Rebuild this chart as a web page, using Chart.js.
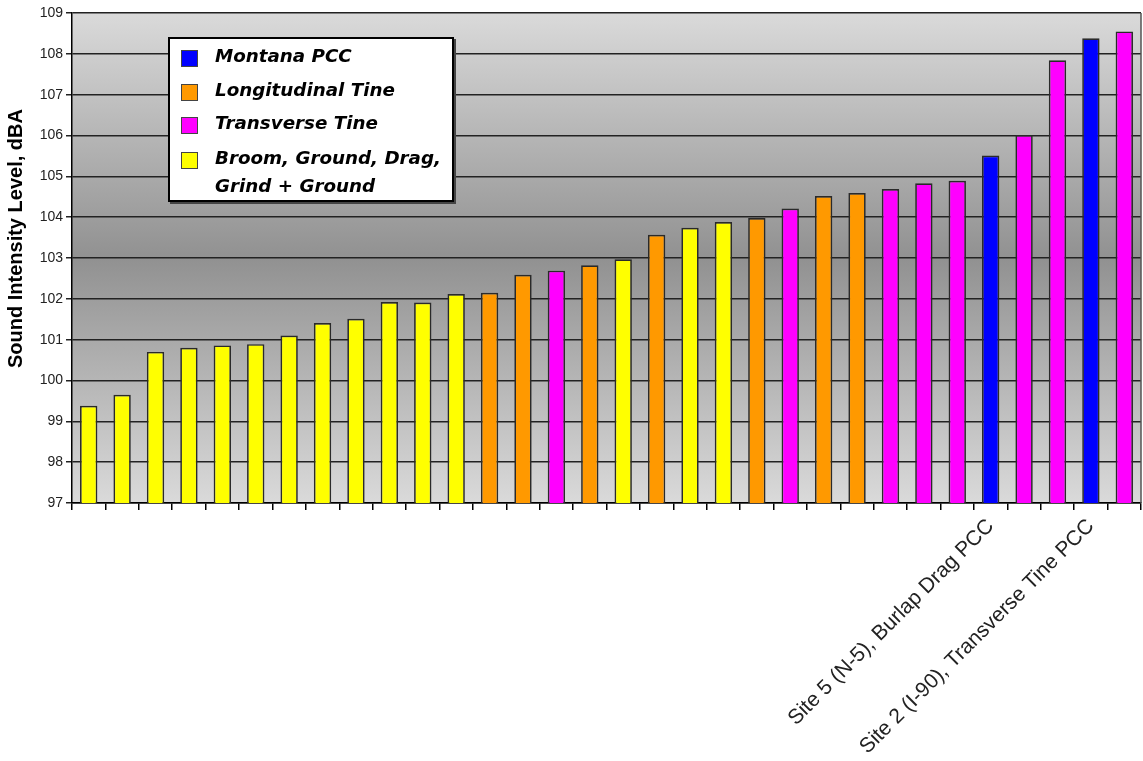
<!DOCTYPE html>
<html>
<head>
<meta charset="utf-8">
<script src="https://cdn.jsdelivr.net/npm/chart.js@4.4.1/dist/chart.umd.min.js"></script>
<style>
  html, body { margin: 0; padding: 0; background: #fff; }
  #wrap { position: relative; width: 1143px; height: 761px; }
  #legend {
    position: absolute; left: 168px; top: 37px; width: 282px; height: 161px;
    background: #fff; border: 2.5px solid #000; box-shadow: 2px 2px 0 #444;
    font-family: "DejaVu Sans", sans-serif; font-weight: bold; font-style: italic;
    font-size: 18.3px; color: #000;
  }
  .item { position: absolute; left: 0; }
  .sw { position: absolute; left: 11px; width: 15px; height: 15px; border: 1px solid #444; }
  .lbl { position: absolute; left: 45px; width: 237px; line-height: 28px; white-space: normal; }
</style>
</head>
<body>
<div id="wrap">
  <canvas id="c" width="1143" height="761"></canvas>
  <div id="legend"></div>
</div>
<script>
// ---- data ----
const categories = ['', '', '', '', '', '', '', '', '', '', '', '', '', '', '', '', '', '', '', '', '', '', '', '', '', '', '',
  'Site 5 (N-5), Burlap Drag PCC', '', '', 'Site 2 (I-90), Transverse Tine PCC', ''];
const values = [99.38, 99.65, 100.70, 100.80, 100.86, 100.89, 101.10, 101.41, 101.51, 101.92, 101.91, 102.12,
  102.15, 102.59, 102.69, 102.82, 102.97, 103.57, 103.74, 103.88, 103.98, 104.21, 104.52, 104.59,
  104.69, 104.83, 104.89, 105.51, 106.01, 107.84, 108.38, 108.55];
// index into seriesNames for each bar
const surfaceType = [3, 3, 3, 3, 3, 3, 3, 3, 3, 3, 3, 3, 1, 1, 2, 1, 3, 1, 3, 3, 1, 2, 1, 1, 2, 2, 2, 0, 2, 2, 0, 2];
const seriesNames = ['Montana PCC', 'Longitudinal Tine', 'Transverse Tine', 'Broom, Ground, Drag, Grind + Ground'];
const seriesColors = ['#0000ff', '#ff9900', '#ff00ff', '#ffff00'];
const yTitle = 'Sound Intensity Level, dBA';
const yMin = 97, yMax = 109, yStep = 1;

// ---- datasets ----
const datasets = seriesNames.map((name, g) => ({
  label: name,
  data: values.map((v, i) => surfaceType[i] === g ? v : null),
  backgroundColor: seriesColors[g],
  borderColor: '#2a2a2a',
  borderWidth: 1.7,
  borderSkipped: false,
  barPercentage: 0.52,
  categoryPercentage: 1.0,
  grouped: false
}));

const bgPlugin = {
  id: 'bg',
  beforeDraw(chart) {
    const { ctx, chartArea: { left, top, right, bottom } } = chart;
    const g = ctx.createLinearGradient(0, top, 0, bottom);
    g.addColorStop(0, '#dadada');
    g.addColorStop(0.5, '#919191');
    g.addColorStop(1, '#dadada');
    ctx.save();
    ctx.fillStyle = g;
    ctx.fillRect(left, top, right - left, bottom - top);
    ctx.restore();
  },
  beforeDatasetsDraw(chart) {
    const { ctx, chartArea: { left, top, right, bottom } } = chart;
    ctx.save();
    ctx.strokeStyle = '#555';
    ctx.lineWidth = 1.5;
    ctx.beginPath();
    ctx.moveTo(right, top);
    ctx.lineTo(right, bottom);
    ctx.stroke();
    ctx.restore();
  }
};

new Chart(document.getElementById('c'), {
  type: 'bar',
  data: { labels: categories, datasets },
  plugins: [bgPlugin],
  options: {
    responsive: false,
    devicePixelRatio: 1,
    animation: false,
    layout: { padding: { top: 13, right: 2, left: 0, bottom: 0 } },
    plugins: { legend: { display: false }, tooltip: { enabled: false } },
    scales: {
      x: {
        type: 'category',
        offset: true,
        afterFit(s) { s.height = 258; s.paddingRight = 0; s.paddingLeft = 0; },
        grid: { offset: true, drawOnChartArea: false, drawTicks: true, tickLength: 7, color: '#000', lineWidth: 1.5 },
        border: { display: true, color: '#000', width: 1.5 },
        ticks: {
          autoSkip: false, minRotation: 45, maxRotation: 45, padding: 4,
          color: '#222', font: { family: '"Liberation Sans", Arial, sans-serif', size: 21 }
        }
      },
      y: {
        min: yMin, max: yMax,
        afterFit(s) { s.width = 72; },
        grid: { color: '#222', lineWidth: 1.5, tickLength: 6, drawTicks: true },
        border: { display: true, color: '#000', width: 1.5 },
        ticks: {
          stepSize: yStep, padding: 3, color: '#222',
          font: { family: '"Liberation Sans", Arial, sans-serif', size: 14 }
        },
        title: {
          display: true, text: '       ' + yTitle, color: '#000', padding: { top: 4, bottom: 0 },
          font: { family: '"Liberation Sans", Arial, sans-serif', size: 20, weight: 'bold' }
        }
      }
    }
  }
});

// ---- legend (HTML, built from the series arrays) ----
const legend = document.getElementById('legend');
const tops = [7, 41, 74, 109];
seriesNames.forEach((name, g) => {
  const item = document.createElement('div');
  item.className = 'item';
  item.style.top = tops[g] + 'px';
  const sw = document.createElement('div');
  sw.className = 'sw';
  sw.style.top = '4px';
  sw.style.background = seriesColors[g];
  const lbl = document.createElement('div');
  lbl.className = 'lbl';
  lbl.style.top = '-4px';
  lbl.textContent = name;
  item.appendChild(sw);
  item.appendChild(lbl);
  legend.appendChild(item);
});
</script>
</body>
</html>
